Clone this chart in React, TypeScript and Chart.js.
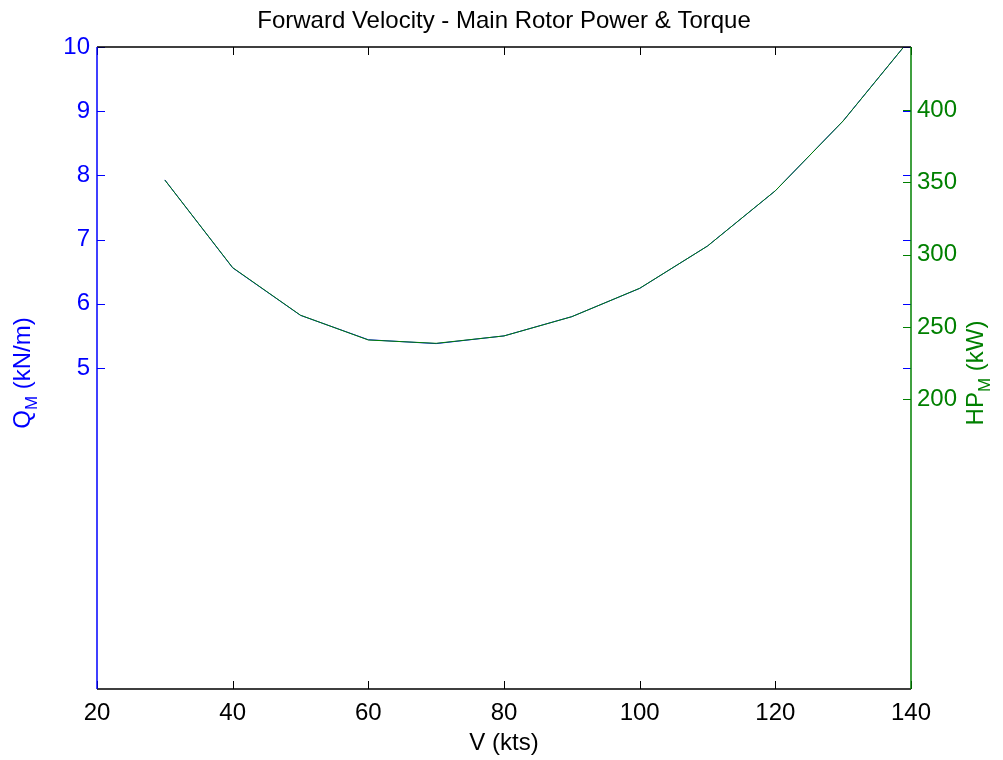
import React, { useEffect, useRef } from "react";
import { Chart, registerables } from "chart.js";
Chart.register(...registerables);

const velocities = [30, 40, 50, 60, 70, 80, 90, 100, 110, 120, 130, 140];
const torque = [7.93, 6.56, 5.82, 5.44, 5.38, 5.5, 5.8, 6.24, 6.9, 7.76, 8.85, 10.14];
const power = [351.6, 291.1, 258.2, 241.1, 238.8, 243.9, 257.2, 276.8, 306.0, 344.2, 392.4, 449.7];
const xTicks = [20, 40, 60, 80, 100, 120, 140];
const leftTicks = [5, 6, 7, 8, 9, 10];
const rightTicks = [200, 250, 300, 350, 400];

const titleText = "Forward Velocity - Main Rotor Power & Torque";
const xTitle = "V (kts)";
const leftTitle = ["Q", "M", " (kN/m)"];
const rightTitle = ["HP", "M", " (kW)"];

const FONT = '"Liberation Sans", Arial, Helvetica, sans-serif';
const BLUE = "#0000ff";
const GREEN = "#008000";

function drawSubLabel(ctx: CanvasRenderingContext2D, parts: string[], baseX: number, cy: number, color: string) {
  const main = `24px ${FONT}`;
  const sub = `17px ${FONT}`;
  ctx.font = main;
  const w1 = ctx.measureText(parts[0]).width;
  const w3 = ctx.measureText(parts[2]).width;
  ctx.font = sub;
  const w2 = ctx.measureText(parts[1]).width;
  const total = w1 + w2 + w3;
  ctx.save();
  ctx.translate(baseX, cy);
  ctx.rotate(-Math.PI / 2);
  ctx.fillStyle = color;
  ctx.textAlign = "left";
  ctx.textBaseline = "alphabetic";
  let x = -total / 2;
  ctx.font = main;
  ctx.fillText(parts[0], x, 0);
  x += w1;
  ctx.font = sub;
  ctx.fillText(parts[1], x, 7);
  x += w2;
  ctx.font = main;
  ctx.fillText(parts[2], x, 0);
  ctx.restore();
}

const decor = {
  id: "decor",
  afterDraw(chart: any) {
    const { ctx, chartArea: a, scales } = chart;
    const T = 8;
    ctx.save();
    ctx.lineWidth = 1;
    ctx.strokeStyle = "#000";
    xTicks.forEach((v) => {
      const px = Math.round(scales.x.getPixelForValue(v)) + 0.5;
      ctx.beginPath();
      ctx.moveTo(px, a.bottom);
      ctx.lineTo(px, a.bottom - T);
      ctx.moveTo(px, a.top);
      ctx.lineTo(px, a.top + T);
      ctx.stroke();
    });
    ctx.strokeStyle = BLUE;
    leftTicks.forEach((v) => {
      const py = Math.round(scales.y.getPixelForValue(v)) + 0.5;
      ctx.beginPath();
      ctx.moveTo(a.left, py);
      ctx.lineTo(a.left + T, py);
      ctx.moveTo(a.right, py);
      ctx.lineTo(a.right - T, py);
      ctx.stroke();
    });
    ctx.strokeStyle = GREEN;
    rightTicks.forEach((v) => {
      const py = Math.round(scales.y1.getPixelForValue(v)) + 0.5;
      ctx.beginPath();
      ctx.moveTo(a.right, py);
      ctx.lineTo(a.right - T, py);
      ctx.stroke();
    });
    ctx.lineWidth = 1.5;
    ctx.strokeStyle = "#000";
    ctx.beginPath();
    ctx.moveTo(a.left, a.top);
    ctx.lineTo(a.right, a.top);
    ctx.moveTo(a.left, a.bottom);
    ctx.lineTo(a.right, a.bottom);
    ctx.stroke();
    ctx.strokeStyle = BLUE;
    ctx.beginPath();
    ctx.moveTo(a.left, a.top);
    ctx.lineTo(a.left, a.bottom);
    ctx.stroke();
    ctx.strokeStyle = GREEN;
    ctx.beginPath();
    ctx.moveTo(a.right, a.top);
    ctx.lineTo(a.right, a.bottom);
    ctx.stroke();

    const cx = (a.left + a.right) / 2;
    ctx.fillStyle = "#000";
    ctx.font = `24px ${FONT}`;
    ctx.textAlign = "center";
    ctx.textBaseline = "alphabetic";
    ctx.fillText(titleText, cx, 28);
    ctx.fillText(xTitle, cx, 750);
    const cy = (a.top + a.bottom) / 2 + 5;
    drawSubLabel(ctx, leftTitle, 30, cy, BLUE);
    drawSubLabel(ctx, rightTitle, 983, cy, GREEN);
    ctx.restore();
  },
};

export default function App() {
  const ref = useRef<HTMLCanvasElement | null>(null);
  useEffect(() => {
    if (!ref.current) return;
    const tickFont = { family: FONT, size: 24 };
    const chart = new Chart(ref.current, {
      type: "line",
      data: {
        datasets: [
          {
            label: "Q",
            data: velocities.map((v, i) => ({ x: v, y: torque[i] })),
            borderColor: BLUE,
            borderWidth: 1,
            pointRadius: 0,
            yAxisID: "y",
            order: 2,
          },
          {
            label: "HP",
            data: velocities.map((v, i) => ({ x: v, y: power[i] })),
            borderColor: GREEN,
            borderWidth: 1,
            pointRadius: 0,
            yAxisID: "y1",
            order: 1,
          },
        ],
      },
      options: {
        responsive: false,
        animation: false,
        devicePixelRatio: 1,
        layout: { padding: { top: 47, left: 0, right: 0, bottom: 0 } },
        plugins: { legend: { display: false }, tooltip: { enabled: false }, title: { display: false } },
        scales: {
          x: {
            type: "linear",
            min: 20,
            max: 140,
            afterBuildTicks: (s: any) => { s.ticks = xTicks.map((v) => ({ value: v })); },
            afterFit: (s: any) => { s.height = 71; },
            grid: { display: false, drawTicks: false },
            border: { display: false },
            ticks: { color: "#000", font: tickFont, padding: 10, maxRotation: 0, autoSkip: false },
          },
          y: {
            type: "linear",
            position: "left",
            min: 0,
            max: 10,
            afterBuildTicks: (s: any) => { s.ticks = leftTicks.map((v) => ({ value: v })); },
            afterFit: (s: any) => { s.width = 97; },
            grid: { display: false, drawTicks: false },
            border: { display: false },
            ticks: { color: BLUE, font: tickFont, padding: 7, autoSkip: false },
          },
          y1: {
            type: "linear",
            position: "right",
            min: 0,
            max: 443.5,
            afterBuildTicks: (s: any) => { s.ticks = rightTicks.map((v) => ({ value: v })); },
            afterFit: (s: any) => { s.width = 92; },
            grid: { display: false, drawTicks: false },
            border: { display: false },
            ticks: { color: GREEN, font: tickFont, padding: 6, autoSkip: false },
          },
        },
      },
      plugins: [decor],
    });
    return () => chart.destroy();
  }, []);
  return (
    <div style={{ position: "fixed", left: 0, top: 0, width: 1003, height: 760, background: "#fff" }}>
      <canvas ref={ref} width={1003} height={760} style={{ width: 1003, height: 760, display: "block" }} />
    </div>
  );
}
